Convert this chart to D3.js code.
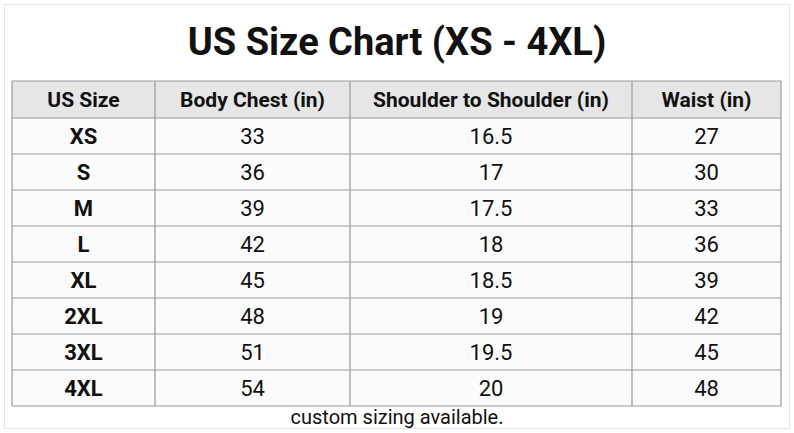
<!DOCTYPE html>
<html><head><meta charset="utf-8">
<script src="https://cdn.jsdelivr.net/npm/d3@7"></script>
<style>body{margin:0;background:#fff}</style></head>
<body><svg id="c" width="794" height="433"></svg>
<script>
const headers = ["US Size","Body Chest (in)","Shoulder to Shoulder (in)","Waist (in)"];
const sizes = ["XS","S","M","L","XL","2XL","3XL","4XL"];
const chest = ["33","36","39","42","45","48","51","54"];
const shoulder = ["16.5","17","17.5","18","18.5","19","19.5","20"];
const waist = ["27","30","33","36","39","42","45","48"];

const svg = d3.select("#c");
svg.append("rect").attr("x",4.5).attr("y",4.5).attr("width",785).attr("height",424).attr("fill","#fff").attr("stroke","#e4e4e4");
svg.append("text").attr("x",397).attr("y",55).attr("text-anchor","middle")
  .attr("font-family","Roboto").attr("font-weight","bold").attr("font-size",38).attr("fill","#111")
  .text("US Size Chart (XS - 4XL)");

const colEdges = [12,155,350,632,781];
const tTop = 81, headH = 37, rowH = 36;
const rows = sizes.map((s,i)=>[s,chest[i],shoulder[i],waist[i]]);
const y = d3.scaleBand().domain(d3.range(rows.length)).range([tTop+headH, tTop+headH+rowH*rows.length]);

svg.append("rect").attr("x",colEdges[0]).attr("y",tTop).attr("width",colEdges[4]-colEdges[0]).attr("height",headH).attr("fill","#e6e6e6");
svg.append("rect").attr("x",colEdges[0]).attr("y",tTop+headH).attr("width",colEdges[4]-colEdges[0]).attr("height",rowH*rows.length).attr("fill","#fbfbfb");

const g = svg.append("g").attr("font-family","Roboto").attr("fill","#111");
headers.forEach((h,j)=>{
  g.append("text").attr("x",(colEdges[j]+colEdges[j+1])/2).attr("y",tTop+headH/2+7)
   .attr("text-anchor","middle").attr("font-weight","bold").attr("font-size",21).text(h);
});
rows.forEach((r,i)=>{
  r.forEach((v,j)=>{
    g.append("text").attr("x",(colEdges[j]+colEdges[j+1])/2).attr("y",y(i)+rowH/2+8)
     .attr("text-anchor","middle").attr("font-size",22).attr("font-weight",j===0?"bold":"normal").text(v);
  });
});
const bottom = tTop+headH+rowH*rows.length;
const lines = svg.append("g").attr("stroke","#9a9a9a").attr("stroke-width",1.2);
[tTop, ...d3.range(rows.length+1).map(i=>tTop+headH+i*rowH)].forEach(yy=>{
  lines.append("line").attr("x1",colEdges[0]).attr("x2",colEdges[4]).attr("y1",yy).attr("y2",yy);
});
colEdges.forEach(xx=>lines.append("line").attr("x1",xx).attr("x2",xx).attr("y1",tTop).attr("y2",bottom));
svg.append("text").attr("x",397).attr("y",424).attr("text-anchor","middle").attr("font-family","Roboto")
  .attr("font-size",20).attr("fill","#111").text("custom sizing available.");
</script></body></html>
